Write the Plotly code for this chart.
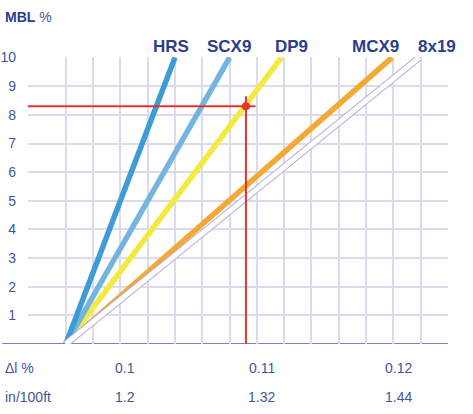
import plotly.graph_objects as go

# ---- data ----
series_names = ["HRS", "SCX9", "DP9", "MCX9", "8x19"]
origin_dl = 0.096          # Δl % where all lines start (MBL 0 %)
end_dl = [0.104, 0.108, 0.1118, 0.1199, 0.1219]  # Δl % at MBL 10 %
mbl_start = 0
mbl_end = 10
series_colors = ["#3E9BD7", "#74B5DF", "#F4EA3E", "#F6A834", "#FFFFFF"]
label_shift = [-4, -1, 10, -16, 18]   # px shift of name labels

marker_dl = 0.1092
marker_mbl = 8.3

dl_ticks = [0.1, 0.11, 0.12]
dl_labels = ["0.1", "0.11", "0.12"]
in_labels = ["1.2", "1.32", "1.44"]
y_ticks = [1, 2, 3, 4, 5, 6, 7, 8, 9, 10]
grid_x = [0.096, 0.098, 0.100, 0.102, 0.104, 0.106, 0.108, 0.110,
          0.112, 0.114, 0.116, 0.118, 0.120, 0.122, 0.124]

NAVY = "#2A3D8C"
TICK = "#42569C"
GRID = "#DCDBED"
FONT = "Liberation Sans, Arial, sans-serif"

x_range = [0.09323, 0.12401]

fig = go.Figure()

order = [3, 2, 1, 0]
for i in order:
    fig.add_trace(go.Scatter(
        x=[origin_dl, end_dl[i]], y=[mbl_start, mbl_end], mode="lines",
        line=dict(color=series_colors[i], width=5.5), cliponaxis=False,
        hoverinfo="skip", showlegend=False))
fig.add_trace(go.Scatter(
    x=[origin_dl, end_dl[4]], y=[mbl_start, mbl_end], mode="lines",
    line=dict(color="#B2B0D8", width=7), cliponaxis=False,
    hoverinfo="skip", showlegend=False))
fig.add_trace(go.Scatter(
    x=[origin_dl, end_dl[4]], y=[mbl_start, mbl_end], mode="lines",
    line=dict(color="#FFFFFF", width=5), cliponaxis=False,
    hoverinfo="skip", showlegend=False))

RED = "#E8302F"
fig.add_trace(go.Scatter(
    x=[x_range[0], marker_dl + 0.0007], y=[marker_mbl, marker_mbl], mode="lines",
    line=dict(color=RED, width=2), cliponaxis=False, hoverinfo="skip", showlegend=False))
fig.add_trace(go.Scatter(
    x=[marker_dl, marker_dl], y=[0, marker_mbl + 0.35], mode="lines",
    line=dict(color=RED, width=2), cliponaxis=False, hoverinfo="skip", showlegend=False))
fig.add_trace(go.Scatter(
    x=[marker_dl], y=[marker_mbl], mode="markers",
    marker=dict(color=RED, size=8), cliponaxis=False, hoverinfo="skip", showlegend=False))

annotations = []
for i, name in enumerate(series_names):
    annotations.append(dict(
        x=end_dl[i], y=mbl_end, xref="x", yref="y", text="<b>%s</b>" % name,
        showarrow=False, xanchor="center", yanchor="middle", xshift=label_shift[i],
        yshift=11, font=dict(family=FONT, size=17, color=NAVY)))

for v, a, b in zip(dl_ticks, dl_labels, in_labels):
    annotations.append(dict(x=v, y=0, xref="x", yref="paper", text=a, showarrow=False,
                            xanchor="center", yanchor="middle", xshift=5, yshift=-24,
                            font=dict(family=FONT, size=14, color=TICK)))
    annotations.append(dict(x=v, y=0, xref="x", yref="paper", text=b, showarrow=False,
                            xanchor="center", yanchor="middle", xshift=5, yshift=-53,
                            font=dict(family=FONT, size=14, color=TICK)))

annotations.append(dict(x=0, y=0, xref="paper", yref="paper", text="Δl %", showarrow=False,
                        xanchor="left", yanchor="middle", xshift=-25, yshift=-24,
                        font=dict(family=FONT, size=14, color=TICK)))
annotations.append(dict(x=0, y=0, xref="paper", yref="paper", text="in/100ft", showarrow=False,
                        xanchor="left", yanchor="middle", xshift=-25, yshift=-53,
                        font=dict(family=FONT, size=14, color=TICK)))
annotations.append(dict(x=0, y=1, xref="paper", yref="paper",
                        text="<b>MBL</b> <span style='color:%s'>%%</span>" % TICK,
                        showarrow=False, xanchor="left", yanchor="middle", xshift=-25, yshift=40,
                        font=dict(family=FONT, size=14, color=NAVY)))

fig.update_layout(
    width=473, height=414,
    margin=dict(l=28, r=25, t=57, b=70, pad=0, autoexpand=False),
    paper_bgcolor="white", plot_bgcolor="white",
    showlegend=False,
    annotations=annotations,
    shapes=[dict(type="line", xref="paper", yref="y", x0=-26 / 420, x1=1, y0=0, y1=0,
                 line=dict(color="#4B5EA8", width=1.5), layer="below")],
    xaxis=dict(range=x_range, tickmode="array", tickvals=grid_x, showticklabels=False,
               showgrid=True, gridcolor=GRID, gridwidth=1.5, zeroline=False, showline=False,
               ticks="", fixedrange=True, automargin=False),
    yaxis=dict(range=[0, 10.02], tickmode="array", tickvals=y_ticks, showgrid=True,
               gridcolor=GRID, gridwidth=1.5, zeroline=False, showline=False, ticks="",
               ticklabelstandoff=11, tickfont=dict(family=FONT, size=14, color=TICK),
               fixedrange=True, automargin=False),
)

fig.write_html("out.html", config={"displayModeBar": False},
               post_script="document.body.style.margin='0';document.body.style.overflow='hidden';")
